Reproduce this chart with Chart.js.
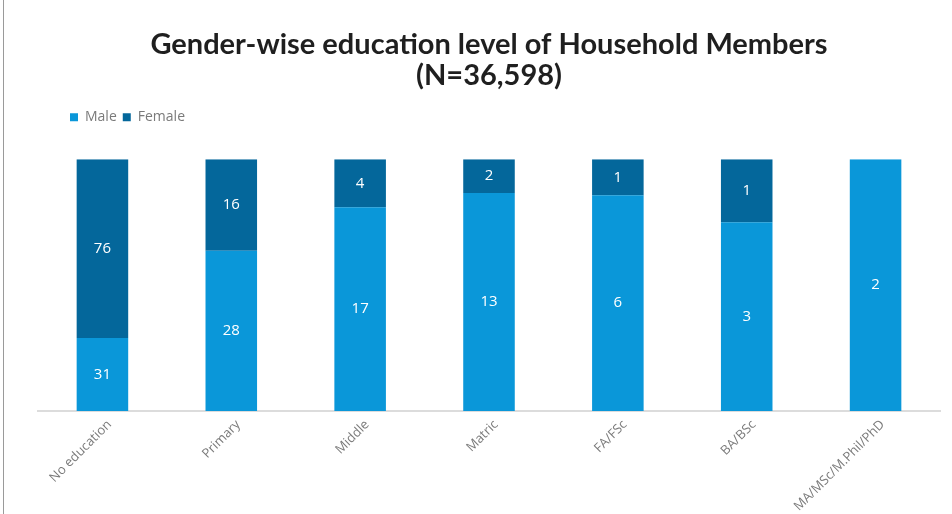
<!DOCTYPE html>
<html>
<head>
<meta charset="utf-8">
<script src="https://cdn.jsdelivr.net/npm/chart.js@4.4.1/dist/chart.umd.min.js"></script>
<style>
  html, body { margin: 0; padding: 0; background: #fff; }
  #wrap { position: relative; width: 952px; height: 514px; }
  #wrap:before { content: ''; position: absolute; left: 3px; top: 0; bottom: 0; border-left: 1px solid #9a9a9a; }
</style>
</head>
<body>
<div id="wrap"><canvas id="chart" width="952" height="514"></canvas></div>
<script>
const categories = ['No education', 'Primary', 'Middle', 'Matric', 'FA/FSc', 'BA/BSc', 'MA/MSc/M.Phil/PhD'];
const maleValues = [31, 28, 17, 13, 6, 3, 2];
const femaleValues = [76, 16, 4, 2, 1, 1, 0];

// 100% stacked: each bar is the share within its category
const share = (a, b) => a.map((v, i) => (v / (v + b[i])) * 100);

// labels in the middle of each segment, showing the raw values
const segmentLabels = {
    id: 'segmentLabels',
    afterDatasetsDraw(chart) {
        const ctx = chart.ctx;
        ctx.save();
        ctx.fillStyle = '#ffffff';
        ctx.font = '15px "Open Sans", sans-serif';
        ctx.textAlign = 'center';
        ctx.textBaseline = 'middle';
        chart.data.datasets.forEach((ds, di) => {
            chart.getDatasetMeta(di).data.forEach((bar, i) => {
                const raw = ds.rawValues[i];
                if (!raw) return;
                const mid = (bar.y + bar.base) / 2;
                ctx.fillText(raw, bar.x, mid);
            });
        });
        ctx.restore();
    }
};

// extra room under the legend, and nudge it right
const legendSpacing = {
    id: 'legendSpacing',
    beforeInit(chart) {
        const fit = chart.legend.fit;
        chart.legend.fit = function () {
            fit.call(this);
            this.height += 25;
        };
    },
    afterLayout(chart) {
        chart.legend.left += 26;
    }
};

new Chart(document.getElementById('chart'), {
    type: 'bar',
    data: {
        labels: categories,
        datasets: [
            {
                label: 'Male',
                data: share(maleValues, femaleValues),
                rawValues: maleValues,
                backgroundColor: '#0a97d9',
            },
            {
                label: 'Female',
                data: share(femaleValues, maleValues),
                rawValues: femaleValues,
                backgroundColor: '#04679b',
            },
        ],
    },
    options: {
        responsive: false,
        animation: false,
        barPercentage: 0.4,
        categoryPercentage: 1,
        layout: { padding: { left: 38, right: 12, top: 30, bottom: 0 } },
        plugins: {
            title: {
                display: true,
                text: ['Gender-wise education level of Household Members', '(N=36,598)'],
                color: '#1f1f1f',
                font: { family: 'Lato', size: 29, weight: 'bold', lineHeight: 1.04 },
                padding: { top: 0, bottom: 14 },
            },
            legend: {
                display: true,
                align: 'start',
                labels: {
                    boxWidth: 8,
                    boxHeight: 8,
                    color: '#7a7a7a',
                    font: { family: 'Open Sans', size: 14 },
                    padding: 6,
                },
            },
            tooltip: { enabled: false },
        },
        scales: {
            x: {
                stacked: true,
                grid: { display: false, drawTicks: false },
                border: { color: '#dcdcdc', width: 2 },
                afterFit: (scale) => { scale.height = 103; },
                ticks: {
                    color: '#7a7a7a',
                    font: { family: 'Open Sans', size: 13 },
                    maxRotation: 45,
                    minRotation: 45,
                    padding: 6,
                    labelOffset: 7,
                },
            },
            y: {
                stacked: true,
                display: false,
                min: 0,
                max: 100,
            },
        },
    },
    plugins: [segmentLabels, legendSpacing],
});
</script>
</body>
</html>
